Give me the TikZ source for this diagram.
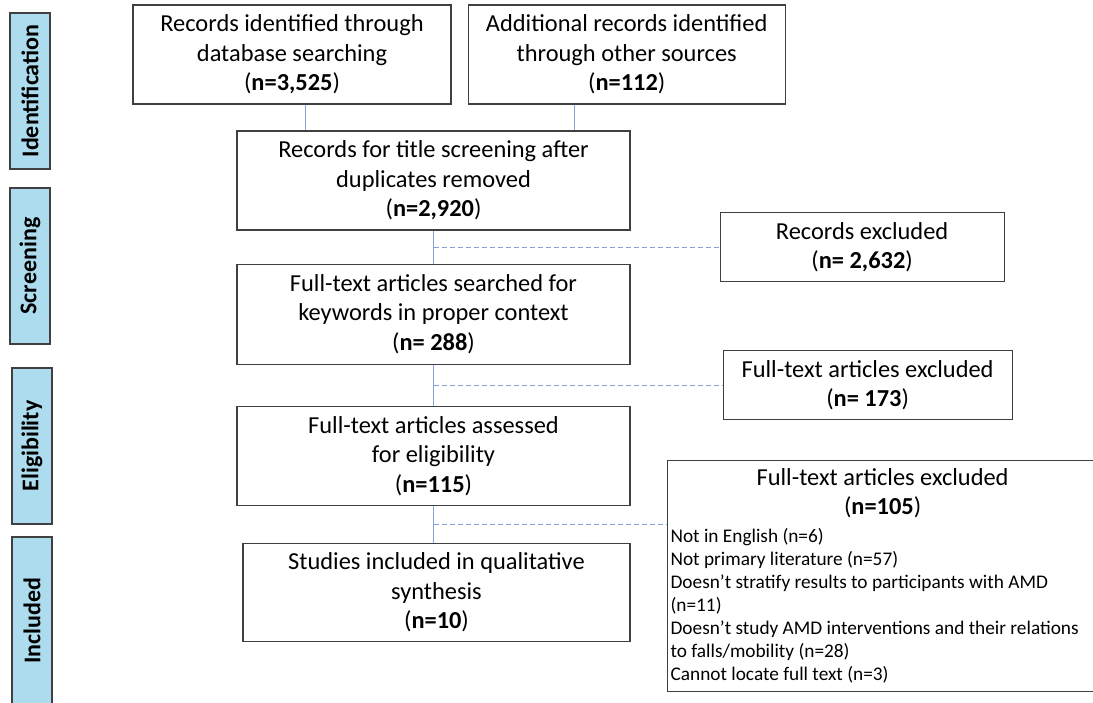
\documentclass[tikz,border=0pt]{standalone}
\usepackage{fontspec}
\setmainfont{Carlito}
\usetikzlibrary{positioning,calc}
\definecolor{colStage}{HTML}{ADDCEF}
\definecolor{colLink} {HTML}{86A4DA}
\definecolor{colEdge} {HTML}{404040}
\tikzset{
  block/.style={
    draw=colEdge, line width=1.2pt,
    align=center, inner sep=2pt,
    font=\fontsize{24.4}{29.5}\selectfont
  },
  srcbox/.style ={block, minimum width=318pt, minimum height=99pt},
  mainbox/.style={block, minimum width=393pt, minimum height=99pt},
  sidebox/.style={block, minimum height=69pt},
  listbox/.style={
    draw=colEdge, line width=1.2pt,
    text width=424pt, minimum height=231pt,
    inner xsep=3pt, inner ysep=2pt,
    font=\fontsize{24.4}{29.5}\selectfont
  },
  stage/.style={
    draw=colEdge, line width=1.2pt, fill=colStage,
    rotate=90, minimum width=156pt, minimum height=40pt,
    inner sep=0pt, font=\fontsize{24}{28}\selectfont\bfseries
  },
  link/.style  ={draw=colLink, line width=0.9pt},
  exlink/.style={link, dash pattern=on 5pt off 3pt}
}
\newcommand{\ncount}[1]{(\textbf{#1})}

\begin{document}
\begin{tikzpicture}[x=1pt, y=-1pt]
    \useasboundingbox (0,0) rectangle (1093,702);

    % stage labels on the left
    \node[stage] (sIdent) at (30,91) {Identification};
    \node[stage] (sScreen) at (30,266) {Screening};
    \node[stage] (sElig) at (32,446) {Eligibility};
    \node[stage, minimum width=168pt] (sIncl) at (32,621) {Included};

    % main flow
    \node[srcbox] (dbase) at (292,54.5) {Records identified through\\database searching\\\ncount{n=3,525}};
    \node[srcbox, minimum width=317pt, right=16pt of dbase] (other) {Additional records identified\\through other sources\\\ncount{n=112}};
    \node[mainbox] (dedup) at (433.5,180.5) {Records for title screening after\\duplicates removed\\\ncount{n=2,920}};
    \node[mainbox, minimum height=100pt, below=33pt of dedup] (search) {Full-text articles searched for\\keywords in proper context\\\ncount{n= 288}};
    \node[mainbox, below=41pt of search] (assess) {Full-text articles assessed\\for eligibility\\\ncount{n=115}};
    \node[mainbox, minimum width=387pt, minimum height=98pt, below=37pt of assess, xshift=3pt] (incl) {Studies included in qualitative\\synthesis\\\ncount{n=10}};

    \coordinate (m1) at ($(dedup.south)!0.5!(search.north)$);
    \coordinate (m2) at ($(search.south)!0.5!(assess.north)$);
    \coordinate (m3) at ($(assess.south)!0.5!(assess.south |- incl.north)$);

    % exclusions
    \node[sidebox, minimum width=284pt, right=286pt of m1] (exc1) {Records excluded\\\ncount{n= 2,632}};
    \node[sidebox, minimum width=289pt, right=289pt of m2] (exc2) {Full-text articles excluded\\\ncount{n= 173}};
    \node[listbox, anchor=north west] (exc3) at ([xshift=233.5pt, yshift=64.5pt]m3) {%
      \spaceskip=0pt \xspaceskip=0pt \parindent=0pt \leftskip=0pt \rightskip=0pt plus 1fil
      \makebox[424pt]{Full-text articles excluded}\newline\makebox[424pt]{\ncount{n=105}}\par\vspace{5pt}%
      \fontsize{19.3}{23}\selectfont Not in English (n=6)\newline Not primary literature (n=57)\newline Doesn’t stratify results to participants with AMD\newline (n=11)\newline Doesn’t study AMD interventions and their relations\newline to falls/mobility (n=28)\newline Cannot locate full text (n=3)\par};

    \draw[link] ([xshift=13pt]dbase.south) -- ([xshift=13pt]dbase.south |- dedup.north);
    \draw[link] ([xshift=-52pt]other.south) -- ([xshift=-52pt]other.south |- dedup.north);
    \draw[link] (dedup.south) -- (search.north);
    \draw[link] (search.south) -- (assess.north);
    \draw[link] (assess.south) -- (assess.south |- incl.north);
    \draw[exlink] (m1) -- (exc1.west);
    \draw[exlink] (m2) -- (exc2.west);
    \draw[exlink] (m3) -- (m3 -| exc3.west);
\end{tikzpicture}
\end{document}
